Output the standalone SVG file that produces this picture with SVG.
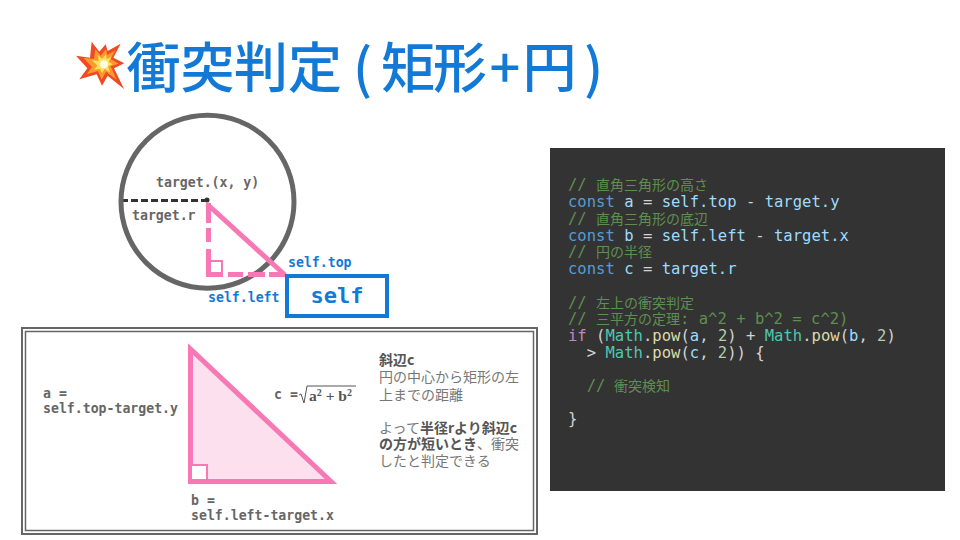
<svg xmlns="http://www.w3.org/2000/svg" width="960" height="540" viewBox="0 0 960 540">
<style>
text{font-family:"DejaVu Sans Mono","Noto Sans CJK JP",monospace;white-space:pre}
.title{font-family:"Noto Sans CJK JP","Noto Sans",sans-serif;font-size:54px;font-weight:500;fill:#1379d6;text-anchor:middle}
.lab{font-size:13.2px;font-weight:700;fill:#666}
.blue{font-size:13.2px;font-weight:700;fill:#1379d6}
.jp{font-family:"Noto Sans CJK JP",sans-serif;font-size:14px;fill:#777}
.jp .b{font-weight:700;fill:#555}
.code{font-size:15.55px;fill:#d4d4d4}
.j{font-family:"Noto Sans CJK JP",sans-serif;font-size:14px}
.cm{fill:#5f8f50}.kw{fill:#569cd6}.vr{fill:#9cdcfe}.fn{fill:#dcdcaa}.cl{fill:#4ec9b0}.if{fill:#c586c0}.nm{fill:#b5cea8}
.pink{stroke:#f778b4;fill:none}
.math{font-family:"Liberation Serif",serif;font-size:15.5px;font-weight:700;fill:#555}
</style>
<rect width="960" height="540" fill="#fff"/>
<g id="title">
<g id="explosion" transform="translate(70 35) scale(.3333)">
<polygon fill="#f04a24" points="65,20 88,50 107,28 113,48 152,26 130,68 163,85 132,100 162,162 113,122 96,152 80,118 28,133 52,100 18,62 60,68"/>
<polygon fill="#fb9a2c" points="76,42 92,62 108,42 112,60 136,46 122,72 146,86 122,94 140,134 108,110 95,134 84,108 50,118 66,96 40,68 72,72"/>
<polygon fill="#fde25c" points="84,60 96,72 108,58 110,72 124,66 116,80 128,88 114,94 120,112 104,102 96,114 90,102 72,104 82,92 66,76 86,78"/>
<circle cx="102" cy="88" r="12" fill="#fffbe8"/>
</g>
<text class="title" y="88" x="153.500 207.500 261 315 362.500 408 460 505 549.500 593.500">衝突判定(矩形+円)</text>
</g>
<g id="connectors">
<path d="M121 200.500H207" stroke="#333" stroke-width="3" stroke-dasharray="7 3" fill="none"/>
</g>
<g id="target-circle">
<circle cx="207.500" cy="201.700" r="86.500" fill="none" stroke="#666" stroke-width="5"/>
<circle cx="207" cy="200" r="2.500" fill="#333"/>
<text class="lab" x="156" y="187">target.(x, y)</text>
<text class="lab" x="132" y="220">target.r</text>
</g>
<g id="small-triangle">
<rect x="208" y="261" width="14" height="13.500" fill="#fff" stroke="#f778b4" stroke-width="2"/>
<path class="pink" d="M207 204 285 275" stroke-width="5"/>
<path class="pink" d="M208.500 203V275" stroke-width="5" stroke-dasharray="20 5 14 7 30"/>
<path class="pink" d="M206 274.500H285" stroke-width="5" stroke-dasharray="17 5 15 5 17 4 99"/>
</g>
<g id="self-box">
<rect x="287" y="276" width="100" height="40" fill="#fff" stroke="#1379d6" stroke-width="4"/>
<text x="337" y="303" text-anchor="middle" font-size="22" font-weight="700" fill="#1379d6">self</text>
<text class="blue" x="288" y="267">self.top</text>
<text class="blue" x="208" y="302">self.left</text>
</g>
<g id="panel">
<rect x="22" y="328" width="515" height="206" fill="#fff" stroke="#666" stroke-width="2"/>
<rect x="25.500" y="331.500" width="508" height="199" fill="none" stroke="#666" stroke-width="1.500"/>
<polygon points="190.500,349 190.500,481.500 331,481.500" fill="#fce0ee" stroke="#f778b4" stroke-width="5"/>
<rect x="191" y="465" width="16" height="15" fill="#fff" stroke="#f778b4" stroke-width="2"/>
<text class="lab" x="43" y="398">a =</text>
<text class="lab" x="43" y="413">self.top-target.y</text>
<text class="lab" x="191" y="505">b =</text>
<text class="lab" x="191" y="520">self.left-target.x</text>
<text class="lab" x="274" y="399">c =</text>
<path d="M299 395l2-1 3 9 3-17H356" fill="none" stroke="#555" stroke-width="1"/>
<text class="math" x="309" y="401">a<tspan font-size="10" dy="-5">2</tspan><tspan dy="5"> + b</tspan><tspan font-size="10" dy="-5">2</tspan></text>
<text class="jp" y="365"><tspan class="b" x="379">斜辺c</tspan></text>
<text class="jp" x="379" y="382">円の中心から矩形の左</text>
<text class="jp" x="379" y="400">上までの距離</text>
<text class="jp" x="379" y="433">よって<tspan class="b">半径rより斜辺c</tspan></text>
<text class="jp" y="449"><tspan class="b" x="379">の方が短いとき</tspan>、衝突</text>
<text class="jp" x="379" y="466">したと判定できる</text>
</g>
<g id="code">
<rect x="550" y="148" width="395" height="343" fill="#333"/>
<text class="code cm" x="568" y="190">// <tspan class="j" x="596">直角三角形の高さ</tspan></text>
<text class="code vr" x="568" y="207"><tspan class="kw">const</tspan> a <tspan fill="#d4d4d4">=</tspan> self.top <tspan fill="#d4d4d4">-</tspan> target.y</text>
<text class="code cm" x="568" y="224">// <tspan class="j" x="596">直角三角形の底辺</tspan></text>
<text class="code vr" x="568" y="241"><tspan class="kw">const</tspan> b <tspan fill="#d4d4d4">=</tspan> self.left <tspan fill="#d4d4d4">-</tspan> target.x</text>
<text class="code cm" x="568" y="257">// <tspan class="j" x="596">円の半径</tspan></text>
<text class="code vr" x="568" y="274"><tspan class="kw">const</tspan> c <tspan fill="#d4d4d4">=</tspan> target.r</text>
<text class="code cm" x="568" y="307.500">// <tspan class="j" x="596">左上の衝突判定</tspan></text>
<text class="code cm" x="568" y="324">// <tspan class="j" x="596">三平方の定理</tspan>: a^2 + b^2 = c^2)</text>
<text class="code" x="568" y="340.500"><tspan class="if">if</tspan> (<tspan class="cl">Math</tspan>.<tspan class="fn">pow</tspan>(<tspan class="vr">a</tspan>, <tspan class="nm">2</tspan>) + <tspan class="cl">Math</tspan>.<tspan class="fn">pow</tspan>(<tspan class="vr">b</tspan>, <tspan class="nm">2</tspan>)</text>
<text class="code" x="568" y="357.500">  &gt; <tspan class="cl">Math</tspan>.<tspan class="fn">pow</tspan>(<tspan class="vr">c</tspan>, <tspan class="nm">2</tspan>)) {</text>
<text class="code cm" x="568" y="390.500">  // <tspan class="j" x="614">衝突検知</tspan></text>
<text class="code" x="568" y="424">}</text>
</g>
</svg>
